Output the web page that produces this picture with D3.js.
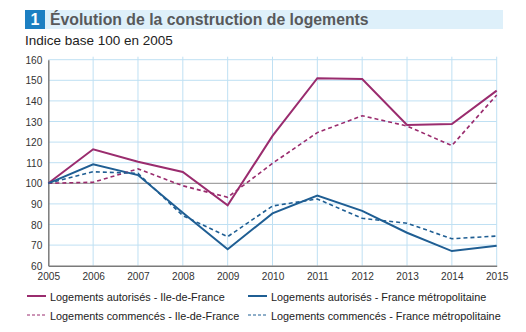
<!DOCTYPE html>
<html>
<head>
<meta charset="utf-8"/>
<title>Évolution de la construction de logements</title>
<script src="https://cdn.jsdelivr.net/npm/d3@7"></script>
<style>
  body{margin:0;background:#fff;}
  svg{font-family:"Liberation Sans", Arial, sans-serif;}
</style>
</head>
<body>
<svg id="chart" width="526" height="332"></svg>
<script>
// index base 100 en 2005
var years = [2005, 2006, 2007, 2008, 2009, 2010, 2011, 2012, 2013, 2014, 2015];
var autorisesIdf = [100, 116.5, 110.5, 105.5, 89.3, 123, 151, 150.6, 128.3, 128.8, 145];
var commencesIdf = [100, 100.5, 107, 98.8, 93.2, 109.7, 124.6, 132.8, 127.8, 118.3, 142.9];
var autorisesFm  = [100, 109.2, 104, 85.7, 68, 85.4, 94, 86.6, 76, 67.1, 69.7];
var commencesFm  = [100, 105.6, 104.8, 84.3, 74.1, 89, 92.4, 83, 80.6, 73.1, 74.4];
var yTicks = [60, 70, 80, 90, 100, 110, 120, 130, 140, 150, 160];

var purple = "#9a2c6e", blue = "#1f5e93", grid = "#bfe0f3";

var series = [
  {name: "Logements autorisés - Ile-de-France", values: autorisesIdf, color: purple, dash: null},
  {name: "Logements autorisés - France métropolitaine", values: autorisesFm, color: blue, dash: null},
  {name: "Logements commencés - Ile-de-France", values: commencesIdf, color: purple, dash: "4,3"},
  {name: "Logements commencés - France métropolitaine", values: commencesFm, color: blue, dash: "4,3"}
];

var svg = d3.select("#chart");

// narrow the text a bit, the print font is condensed
function squeeze(sel, k){
  sel.each(function(){
    var w = this.getComputedTextLength();
    d3.select(this).attr("textLength", w * k).attr("lengthAdjust", "spacingAndGlyphs");
  });
}

// title bar
svg.append("rect").attr("x", 45).attr("y", 10).attr("width", 458).attr("height", 19).attr("fill", "#def0fa");
svg.append("rect").attr("x", 25).attr("y", 10).attr("width", 20).attr("height", 19).attr("fill", "#1c7fc2");
svg.append("text").attr("x", 35).attr("y", 25).attr("text-anchor", "middle")
  .attr("fill", "#fff").attr("font-weight", "bold").attr("font-size", 16).text("1");
svg.append("text").attr("x", 50).attr("y", 25).attr("fill", "#58595b")
  .attr("font-weight", "bold").attr("font-size", 15.8).text("Évolution de la construction de logements");
svg.append("text").attr("x", 25).attr("y", 45).attr("fill", "#222")
  .attr("font-size", 13.5).text("Indice base 100 en 2005");

var x = d3.scaleLinear().domain([2005, 2015]).range([48.3, 496.7]);
var y = d3.scaleLinear().domain([60, 160]).range([265.7, 59.7]);

var g = svg.append("g");

// grid
g.selectAll(".hgrid").data(yTicks.filter(function(d){ return d != 60 && d != 100; }))
  .enter().append("line")
  .attr("x1", x(2005)).attr("x2", x(2015))
  .attr("y1", function(d){ return y(d); }).attr("y2", function(d){ return y(d); })
  .attr("stroke", grid).attr("stroke-width", 1);
g.selectAll(".vgrid").data(years.slice(1))
  .enter().append("line")
  .attr("x1", function(d){ return x(d); }).attr("x2", function(d){ return x(d); })
  .attr("y1", y(160) - 3).attr("y2", y(60))
  .attr("stroke", grid).attr("stroke-width", 1);

// reference line at 100
g.append("line").attr("x1", x(2005)).attr("x2", x(2015)).attr("y1", y(100)).attr("y2", y(100))
  .attr("stroke", "#8c8c8c").attr("stroke-width", 1);

// axes
var yAxis = d3.axisLeft(y).tickValues(yTicks).tickSize(0).tickPadding(6);
var xAxis = d3.axisBottom(x).tickValues(years).tickFormat(d3.format("d")).tickSize(0).tickPadding(4);

var ya = svg.append("g").attr("transform", "translate(" + x(2005) + ",0)").call(yAxis);
var xa = svg.append("g").attr("transform", "translate(0," + y(60) + ")").call(xAxis);
[ya, xa].forEach(function(a){
  a.select(".domain").attr("stroke", "#7a7a7a").attr("stroke-width", 1.5);
  a.selectAll("text").attr("fill", "#333").attr("font-size", 11)
    .attr("font-family", "'Liberation Sans', Arial, sans-serif");
  squeeze(a.selectAll("text"), 0.92);
});
xa.selectAll("text").attr("dy", "0.9em");

// series lines
var line = d3.line()
  .x(function(d, i){ return x(years[i]); })
  .y(function(d){ return y(d); });

svg.selectAll(".serie").data(series).enter().append("path")
  .attr("d", function(d){ return line(d.values); })
  .attr("fill", "none")
  .attr("stroke", function(d){ return d.color; })
  .attr("stroke-width", function(d){ return d.dash ? 1.6 : 2; })
  .attr("stroke-dasharray", function(d){ return d.dash; })
  .attr("stroke-linejoin", "miter");

// legend
var leg = svg.selectAll(".leg").data(series).enter().append("g")
  .attr("transform", function(d, i){
    return "translate(" + (i % 2 ? 248 : 27) + "," + (i < 2 ? 296 : 315) + ")";
  });
leg.append("line").attr("x1", 0).attr("x2", 19).attr("y1", 0).attr("y2", 0)
  .attr("stroke", function(d){ return d.color; })
  .attr("stroke-width", function(d){ return d.dash ? 1 : 2; })
  .attr("stroke-dasharray", function(d){ return d.dash ? "3,2" : null; });
var legText = leg.append("text").attr("x", 23).attr("y", 4.5).attr("fill", "#222")
  .attr("font-size", 11.3).text(function(d){ return d.name; });
squeeze(legText, 0.96);
</script>
</body>
</html>
